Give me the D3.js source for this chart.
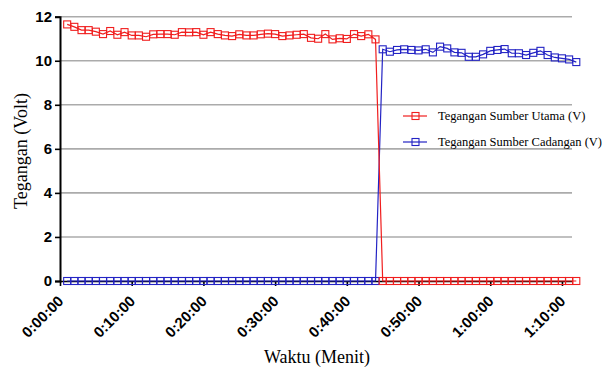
<!DOCTYPE html>
<html>
<head>
<meta charset="utf-8">
<script src="https://cdn.jsdelivr.net/npm/d3@7"></script>
<style>
	body { margin: 0; background: #fff; }
	.tick text { font-family: "Liberation Sans", Arial, sans-serif; font-weight: bold; }
	.title { font-family: "Liberation Serif", "Times New Roman", serif; }
</style>
</head>
<body>
<svg id="chart" width="606" height="372"></svg>
<script>

// data
var minutes = [1,2,3,4,5,6,7,8,9,10,11,12,13,14,15,16,17,18,19,20,21,22,23,24,
	25,26,27,28,29,30,31,32,33,34,35,36,37,38,39,40,41,42,43,44,45,46,47,48,
	49,50,51,52,53,54,55,56,57,58,59,60,61,62,63,64,65,66,67,68,69,70,71,72];

var utama = [11.65,11.54,11.39,11.39,11.32,11.21,11.35,11.18,11.30,11.15,11.15,11.09,
	11.20,11.21,11.21,11.18,11.30,11.29,11.30,11.18,11.30,11.21,11.15,11.12,
	11.20,11.15,11.15,11.20,11.23,11.21,11.12,11.15,11.18,11.21,11.04,11.00,
	11.21,10.97,11.02,10.99,11.21,11.12,11.20,10.97,
	0,0,0,0,0,0,0,0,0,0,0,0,0,0,0,0,0,0,0,0,0,0,0,0,0,0,0,0];

var cadangan = [0,0,0,0,0,0,0,0,0,0,0,0,0,0,0,0,0,0,0,0,0,0,
	0,0,0,0,0,0,0,0,0,0,0,0,0,0,0,0,0,0,0,0,0,0,
	10.52,10.41,10.49,10.52,10.49,10.47,10.52,10.38,10.64,10.56,10.38,10.36,
	10.18,10.18,10.29,10.45,10.49,10.53,10.34,10.34,10.26,10.36,10.45,10.26,
	10.15,10.11,10.06,9.94];

var seriesNames = ["Tegangan Sumber Utama (V)", "Tegangan Sumber Cadangan (V)"];
var seriesColors = ["#f01e1e", "#2323c4"];
var xTicks = [0,10,20,30,40,50,60,70];
var yTicks = [0,2,4,6,8,10,12];


var svg = d3.select("#chart");

var x = d3.scaleLinear().domain([0, 71.4]).range([60, 572]);
var y = d3.scaleLinear().domain([0, 12]).range([281, 16.7]);

function fmtTime(m){
	var h = Math.floor(m / 60);
	var mm = m % 60;
	return h + ":" + (mm < 10 ? "0" : "") + mm + ":00";
}


// grid lines
svg.append("g")
	.selectAll("line")
	.data(yTicks.filter(function(d){ return d > 0; }))
	.join("line")
	.attr("x1", x.range()[0])
	.attr("x2", x.range()[1])
	.attr("y1", function(d){ return y(d); })
	.attr("y2", function(d){ return y(d); })
	.attr("stroke", "#ababab")
	.attr("stroke-width", 1.6)
	;


// axes
var yAxis = svg.append("g")
	.attr("transform", "translate(60,0)")
	.call(d3.axisLeft(y).tickValues(yTicks).tickSize(5).tickPadding(3))
	;
yAxis.selectAll("text").style("font-size", "15px");
yAxis.select(".domain").attr("stroke-width", 2);
yAxis.selectAll(".tick line").attr("stroke-width", 1.6);

var xAxis = svg.append("g")
	.attr("transform", "translate(0,281)")
	.call(d3.axisBottom(x).tickValues(xTicks).tickFormat(fmtTime).tickSize(5).tickSizeOuter(0))
	;
xAxis.select(".domain").attr("stroke-width", 1.6);
xAxis.selectAll(".tick line").attr("stroke-width", 1.6);
xAxis.selectAll(".tick text")
	.style("font-size", "15px")
	.attr("text-anchor", "end")
	.attr("y", 0)
	.attr("dy", 0)
	.attr("transform", "translate(4,21) rotate(-45)")
	;


// series
var allSeries = [utama, cadangan];
var line = d3.line()
	.x(function(d, i){ return x(minutes[i]); })
	.y(function(d){ return y(d); })
	;

// blue first, red drawn on top
[1, 0].forEach(function(s){
	var g = svg.append("g");
	g.append("path")
		.datum(allSeries[s])
		.attr("d", line)
		.attr("fill", "none")
		.attr("stroke", seriesColors[s])
		.attr("stroke-width", 1.2)
		;
	g.selectAll("rect")
		.data(allSeries[s])
		.join("rect")
		.attr("x", function(d, i){ return x(minutes[i]) - 3.5; })
		.attr("y", function(d){ return y(d) - 3.5; })
		.attr("width", 7)
		.attr("height", 7)
		.attr("fill", "none")
		.attr("stroke", seriesColors[s])
		.attr("stroke-width", 1.1)
		;
});


// legend
var legend = svg.append("g")
	.selectAll("g")
	.data(seriesNames)
	.join("g")
	.attr("transform", function(d, i){ return "translate(403," + (116 + i * 26) + ")"; })
	;
legend.append("line")
	.attr("x1", 0).attr("x2", 24)
	.attr("stroke", function(d, i){ return seriesColors[i]; })
	.attr("stroke-width", 1.2)
	;
legend.append("rect")
	.attr("x", 9).attr("y", -3.5)
	.attr("width", 7).attr("height", 7)
	.attr("fill", "none")
	.attr("stroke", function(d, i){ return seriesColors[i]; })
	.attr("stroke-width", 1.1)
	;
legend.append("text")
	.attr("class", "title")
	.attr("x", 35)
	.attr("dy", "0.35em")
	.style("font-size", "12.5px")
	.text(function(d){ return d; })
	;


// axis titles
svg.append("text")
	.attr("class", "title")
	.attr("transform", "translate(27,151) rotate(-90)")
	.attr("text-anchor", "middle")
	.style("font-size", "18px")
	.text("Tegangan (Volt)")
	;
svg.append("text")
	.attr("class", "title")
	.attr("x", 317)
	.attr("y", 363)
	.attr("text-anchor", "middle")
	.style("font-size", "18px")
	.text("Waktu (Menit)")
	;

</script>
</body>
</html>
